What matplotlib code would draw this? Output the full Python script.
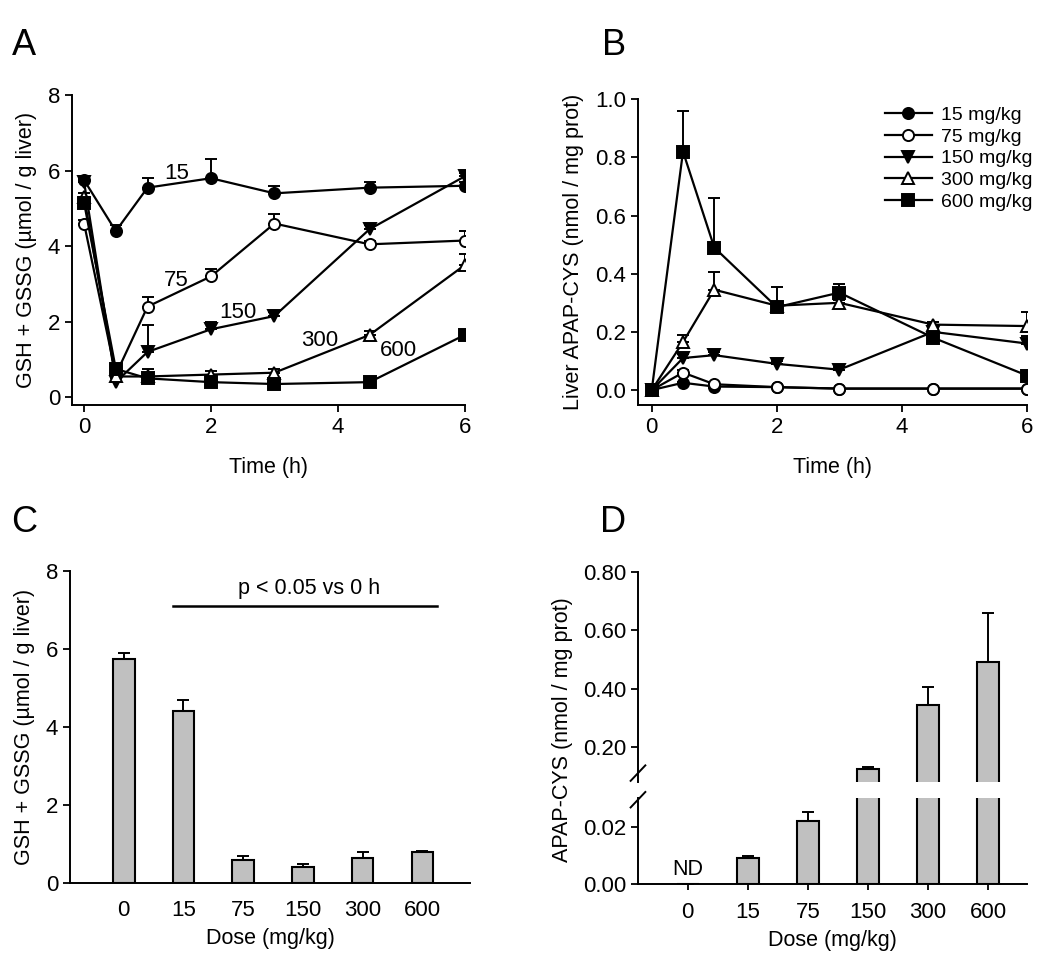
import matplotlib
matplotlib.use("Agg")
import matplotlib.pyplot as plt
import numpy as np

plt.rcParams['font.family'] = ['Liberation Sans', 'DejaVu Sans']
plt.rcParams['font.size'] = 15.5

# time course (h)
times = [0, 0.5, 1, 2, 3, 4.5, 6]
doses = ["15", "75", "150", "300", "600"]

# panel A: GSH + GSSG (umol / g liver), mean and upper SE
gsh_15 = [5.75, 4.4, 5.55, 5.8, 5.4, 5.55, 5.6]
gsh_75 = [4.6, 0.6, 2.4, 3.2, 4.6, 4.05, 4.15]
gsh_150 = [5.7, 0.4, 1.2, 1.8, 2.15, 4.45, 5.85]
gsh_300 = [5.3, 0.55, 0.55, 0.6, 0.65, 1.65, 3.5]
gsh_600 = [5.15, 0.75, 0.5, 0.4, 0.35, 0.4, 1.65]
gsh_err_15 = [0.1, 0.15, 0.25, 0.5, 0.2, 0.15, 0.1]
gsh_err_75 = [0.1, 0.1, 0.25, 0.2, 0.25, 0.1, 0.25]
gsh_err_150 = [0.1, 0.1, 0.7, 0.2, 0.1, 0.1, 0.1]
gsh_err_300 = [0.1, 0.1, 0.2, 0.1, 0.1, 0.1, 0.3]
gsh_err_600 = [0.1, 0.1, 0.1, 0.05, 0.05, 0.05, 0.05]

# panel B: liver APAP-CYS (nmol / mg prot)
cys_15 = [0.0, 0.025, 0.012, 0.01, 0.005, 0.005, 0.005]
cys_75 = [0.0, 0.06, 0.02, 0.01, 0.005, 0.005, 0.005]
cys_150 = [0.0, 0.11, 0.12, 0.09, 0.07, 0.2, 0.16]
cys_300 = [0.0, 0.165, 0.345, 0.29, 0.30, 0.225, 0.22]
cys_600 = [0.0, 0.82, 0.49, 0.285, 0.335, 0.18, 0.05]
cys_err_15 = [0, 0.004, 0.003, 0, 0, 0, 0]
cys_err_75 = [0, 0.01, 0.005, 0, 0, 0, 0]
cys_err_150 = [0, 0.015, 0.01, 0.01, 0.01, 0.01, 0.025]
cys_err_300 = [0, 0.025, 0.06, 0.01, 0.01, 0.01, 0.05]
cys_err_600 = [0, 0.14, 0.17, 0.07, 0.03, 0.02, 0.01]

# panel C / D: 0.5 h values by dose
bar_doses = ["0", "15", "75", "150", "300", "600"]
gsh_bar = [5.75, 4.4, 0.6, 0.42, 0.65, 0.8]
gsh_bar_err = [0.15, 0.3, 0.08, 0.06, 0.15, 0.03]
cys_bar = [0.0, 0.0092, 0.022, 0.125, 0.345, 0.49]
cys_bar_err = [0.0, 0.0005, 0.003, 0.005, 0.06, 0.17]

markers = ['o', 'o', 'v', '^', 's']
faces = ['black', 'white', 'black', 'white', 'black']

fig = plt.figure(figsize=(10.5, 9.67), dpi=100)


def style(ax):
    ax.spines['top'].set_visible(False)
    ax.spines['right'].set_visible(False)
    for s in ('left', 'bottom'):
        ax.spines[s].set_linewidth(1.4)
    ax.tick_params(direction='out', length=5, width=1.3, labelsize=16)


def line_panel(ax, series, errs):
    for vals, err, m, fc, lab in zip(series, errs, markers, faces, doses):
        ax.errorbar(times, vals, yerr=[np.zeros(len(err)), err], fmt=m + '-',
                    color='black', mfc=fc, mec='black', ms=8, mew=1.4, lw=1.6,
                    elinewidth=1.4, capsize=4, capthick=1.4,
                    label=lab + " mg/kg")
    style(ax)
    ax.set_xticks([0, 2, 4, 6])
    ax.set_xlabel("Time (h)", labelpad=14)


# A
axA = fig.add_axes([0.0686, 0.581, 0.374, 0.3206])
line_panel(axA, [gsh_15, gsh_75, gsh_150, gsh_300, gsh_600],
           [gsh_err_15, gsh_err_75, gsh_err_150, gsh_err_300, gsh_err_600])
axA.set_xlim(-0.19, 6)
axA.set_ylim(-0.21, 8)
axA.set_yticks([0, 2, 4, 6, 8])
axA.set_ylabel("GSH + GSSG (µmol / g liver)", labelpad=8)
label_pos = [(1.46, 5.93), (1.46, 3.1), (2.43, 2.25), (3.72, 1.5), (4.95, 1.25)]
for d, (x, y) in zip(doses, label_pos):
    axA.text(x, y, d, ha='center', va='center', fontsize=16)

# B
axB = fig.add_axes([0.6076, 0.581, 0.3705, 0.3164])
line_panel(axB, [cys_15, cys_75, cys_150, cys_300, cys_600],
           [cys_err_15, cys_err_75, cys_err_150, cys_err_300, cys_err_600])
axB.set_xlim(-0.22, 6)
axB.set_ylim(-0.052, 1.0)
axB.set_yticks([0, 0.2, 0.4, 0.6, 0.8, 1.0])
axB.yaxis.set_major_formatter(lambda v, _: "{:.1f}".format(v))
axB.set_ylabel("Liver APAP-CYS (nmol / mg prot)", labelpad=8)
handles, labels = axB.get_legend_handles_labels()
handles = [h[0] for h in handles]
axB.legend(handles, labels, loc='upper right', bbox_to_anchor=(1.06, 1.035),
           frameon=False, fontsize=14, handlelength=2.4, labelspacing=0.22,
           handletextpad=0.5)

# C
axC = fig.add_axes([0.0667, 0.0869, 0.381, 0.3226])
xc = np.arange(len(bar_doses))
axC.bar(xc, gsh_bar, width=0.36, color='#c0c0c0', edgecolor='black', lw=1.5,
        yerr=[np.zeros(len(xc)), gsh_bar_err], capsize=4,
        error_kw=dict(elinewidth=1.4, capthick=1.4))
style(axC)
axC.set_xlim(-0.9, 5.8)
axC.set_ylim(0, 8)
axC.set_yticks([0, 2, 4, 6, 8])
axC.set_xticks(xc)
axC.set_xticklabels(bar_doses)
axC.tick_params(axis='x', length=0, pad=12)
axC.set_xlabel("Dose (mg/kg)", labelpad=5)
axC.set_ylabel("GSH + GSSG (µmol / g liver)", labelpad=8)
axC.plot([0.83, 5.25], [7.1, 7.1], color='black', lw=1.8)
axC.text(3.1, 7.55, "p < 0.05 vs 0 h", ha='center', va='center', fontsize=15.5)

# D (broken axis)
axDu = fig.add_axes([0.6076, 0.1913, 0.3705, 0.2172])
axDl = fig.add_axes([0.6076, 0.0858, 0.3705, 0.0889])
xd = np.arange(len(bar_doses))
for ax in (axDu, axDl):
    ax.bar(xd, cys_bar, width=0.36, color='#c0c0c0', edgecolor='black', lw=1.5,
           yerr=[np.zeros(len(xd)), cys_bar_err], capsize=4,
           error_kw=dict(elinewidth=1.4, capthick=1.4))
    style(ax)
    ax.set_xlim(-0.83, 5.65)
axDu.set_ylim(0.08, 0.80)
axDu.set_yticks([0.2, 0.4, 0.6, 0.8])
axDu.yaxis.set_major_formatter(lambda v, _: "{:.2f}".format(v))
axDu.spines['bottom'].set_visible(False)
axDu.tick_params(axis='x', bottom=False, labelbottom=False)
axDl.set_ylim(0, 0.03)
axDl.set_yticks([0, 0.02])
axDl.yaxis.set_major_formatter(lambda v, _: "{:.2f}".format(v))
axDl.set_xticks(xd)
axDl.set_xticklabels(bar_doses)
axDl.tick_params(axis='x', length=4, pad=9)
axDl.set_xlabel("Dose (mg/kg)", labelpad=5)
axDl.text(0, 0.005, "ND", ha='center', va='center', fontsize=15.5)
fig.text(0.536, 0.245, "APAP-CYS (nmol / mg prot)", rotation=90,
         ha='center', va='center', fontsize=15.5)

# break marks on the y axis
for yb in (0.2005, 0.173):
    fig.add_artist(plt.Line2D([0.6006, 0.6146], [yb - 0.008, yb + 0.008],
                              color='black', lw=1.4))

# panel letters
for lab, (x, y) in zip("ABCD", [(0.011, 0.953), (0.573, 0.953),
                               (0.011, 0.460), (0.571, 0.460)]):
    fig.text(x, y, lab, fontsize=26, ha='left', va='center')

plt.savefig("out.png", dpi=100)
plt.close()
